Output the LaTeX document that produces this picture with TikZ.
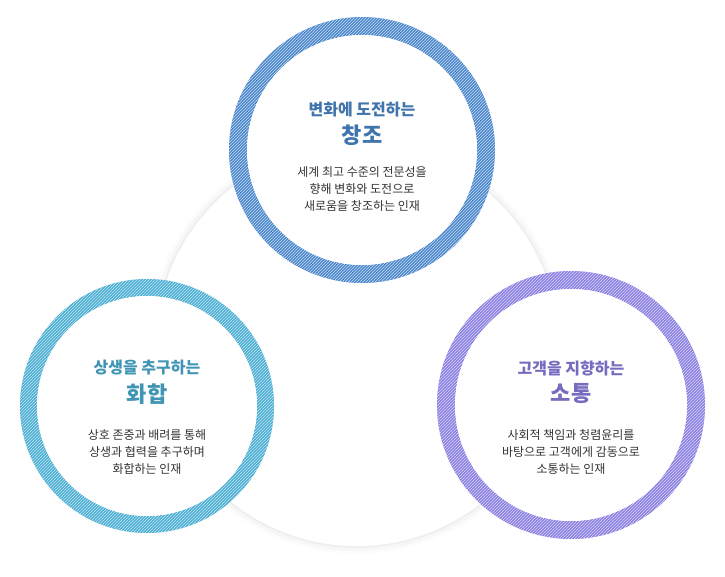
\documentclass[tikz,border=0pt]{standalone}
\usepackage{fontspec}
\setmainfont{Noto Sans CJK KR}
\usetikzlibrary{patterns}
\definecolor{topblue}{HTML}{4A88CC}
\definecolor{leftcyan}{HTML}{4AAFD3}
\definecolor{rightviolet}{HTML}{8A7FE2}
\definecolor{bodygray}{HTML}{333333}
\begin{document}
\begin{tikzpicture}[x=1pt,y=-1pt]
	\tikzset{ring/.style = {even odd rule, fill=#1, postaction={pattern=north east lines, pattern color=white!70!#1}},
		heading/.style = {text=#1!85!black, font=\bfseries\fontsize{16}{19}\selectfont, align=center},
		caption/.style = {text=bodygray, font=\fontsize{12}{17}\selectfont, align=center}}
	\useasboundingbox (0,0) rectangle (725,576);

	% background circle with soft edge
	\foreach \r/\o in {209/0.012,206/0.02,203/0.03}
		\fill[black, opacity=\o] (357,345) circle (\r);
	\fill[white] (357,345) circle (201);

	\fill[ring=topblue] (362,150) circle (133) (362,150) circle (115);
	\fill[white] (362,150) circle (115);
	\fill[ring=leftcyan] (147,406) circle (127) (147,406) circle (110);
	\fill[white] (147,406) circle (110);
	\fill[ring=rightviolet] (571,405) circle (134) (571,405) circle (116);
	\fill[white] (571,405) circle (116);

	\node[heading=topblue] (T_1) at (362,110) {변화에 도전하는};
	\node[heading=topblue, font=\bfseries\fontsize{22}{26}\selectfont] (T_2) at (362,135) {창조};
	\node[caption] (T_3) at (362,189) {세계 최고 수준의 전문성을\\향해 변화와 도전으로\\새로움을 창조하는 인재};

	\node[heading=leftcyan] (L_1) at (147,368) {상생을 추구하는};
	\node[heading=leftcyan, font=\bfseries\fontsize{22}{26}\selectfont] (L_2) at (147,394) {화합};
	\node[caption] (L_3) at (147,452) {상호 존중과 배려를 통해\\상생과 협력을 추구하며\\화합하는 인재};

	\node[heading=rightviolet] (R_1) at (571,368) {고객을 지향하는};
	\node[heading=rightviolet, font=\bfseries\fontsize{22}{26}\selectfont] (R_2) at (571,394) {소통};
	\node[caption] (R_3) at (571,452) {사회적 책임과 청렴윤리를\\바탕으로 고객에게 감동으로\\소통하는 인재};
\end{tikzpicture}
\end{document}
